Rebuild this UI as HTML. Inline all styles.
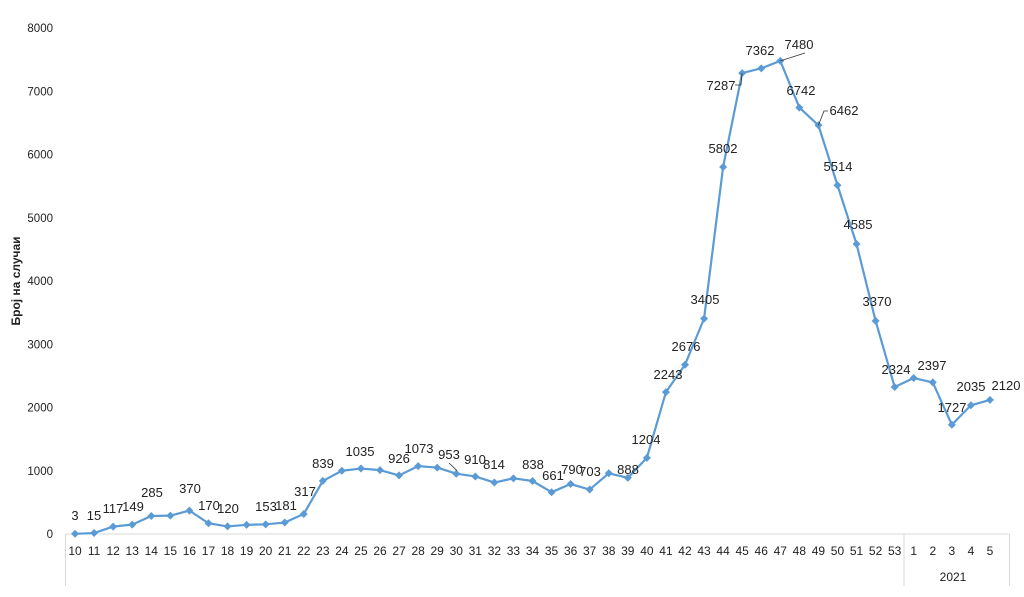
<!DOCTYPE html>
<html><head><meta charset="utf-8"><style>
html,body{margin:0;padding:0;background:#fff;}
svg text{font-family:"Liberation Sans",sans-serif;}
</style></head><body>
<svg id="c" width="1024" height="592" xmlns="http://www.w3.org/2000/svg"></svg>
<script>
const weeks=[10,11,12,13,14,15,16,17,18,19,20,21,22,23,24,25,26,27,28,29,30,31,32,33,34,35,36,37,38,39,40,41,42,43,44,45,46,47,48,49,50,51,52,53,1,2,3,4,5];
const vals=[3,15,117,149,285,290,370,170,120,145,153,181,317,839,1000,1035,1010,926,1073,1050,953,910,814,880,838,661,790,703,960,888,1204,2243,2676,3405,5802,7287,7362,7480,6742,6462,5514,4585,3370,2324,2466,2397,1727,2035,2120];
const x0=65.5,x1=999.5,n=weeks.length,cw=(x1-x0)/n;
const X=i=>x0+cw*(i+0.5), Y=v=>534-v*0.06325;
let s='';
for(let k=0;k<=8;k++){s+=`<text x="53" y="${Y(k*1000)+4}" font-size="11.5" text-anchor="end" fill="#222">${k*1000}</text>`;}
s+=`<text transform="translate(20,281) rotate(-90)" font-size="12" font-weight="bold" text-anchor="middle" fill="#222">Број на случаи</text>`;
s+=`<line x1="${x0}" y1="534" x2="${x1+10}" y2="534" stroke="#d9d9d9"/>`;
[x0,904,x1+10].forEach(x=>s+=`<line x1="${x}" y1="534" x2="${x}" y2="586" stroke="#d9d9d9"/>`);
weeks.forEach((w,i)=>s+=`<text x="${X(i)}" y="555" font-size="12" text-anchor="middle" fill="#222">${w}</text>`);
s+=`<text x="953" y="581" font-size="12" text-anchor="middle" fill="#222">2021</text>`;
s+=`<polyline fill="none" stroke="#5b9bd5" stroke-width="2.2" stroke-linejoin="round" points="${vals.map((v,i)=>X(i)+','+Y(v)).join(' ')}"/>`;
vals.forEach((v,i)=>{const x=X(i),y=Y(v);s+=`<path d="M${x} ${y-4}L${x+4} ${y}L${x} ${y+4}L${x-4} ${y}Z" fill="#5b9bd5"/>`;});
const T=[["3",75,520],["15",94,520],["117",113,513],["149",133,511],["285",152,497],["370",190,493],["170",209,510],["120",228,513],["153",266,511],["181",286,510],["317",305,496],["839",323,468],["1035",360,456],["926",399,463],["1073",419,453],["953",449,459],["910",475,464],["814",494,469],["838",533,469],["661",553,480],["790",572,474],["703",590,476],["888",628,474],["1204",646,444],["2243",668,379],["2676",686,351],["3405",705,304],["5802",723,153],["7287",721,90],["7362",760,55],["7480",799,49],["6742",801,95],["6462",844,115],["5514",838,171],["4585",858,229],["3370",877,306],["2324",896,374],["2397",932,370],["1727",952,412],["2035",971,391],["2120",1006,390]];
T.forEach(a=>s+=`<text x="${a[1]}" y="${a[2]}" font-size="13" text-anchor="middle" fill="#222">${a[0]}</text>`);
s+=`<polyline points="735,85 741,85 742,${Y(7287)}" fill="none" stroke="#333" stroke-width="0.8"/>`;
s+=`<line x1="${X(37)}" y1="${Y(7480)}" x2="805" y2="53" stroke="#333" stroke-width="0.8"/>`;
s+=`<polyline points="${X(39)},${Y(6462)} 824,111 828,111" fill="none" stroke="#333" stroke-width="0.8"/>`;
s+=`<line x1="449" y1="463" x2="457" y2="${Y(953)-3}" stroke="#333" stroke-width="0.8"/>`;
document.getElementById('c').innerHTML=s;
</script>
</body></html>
